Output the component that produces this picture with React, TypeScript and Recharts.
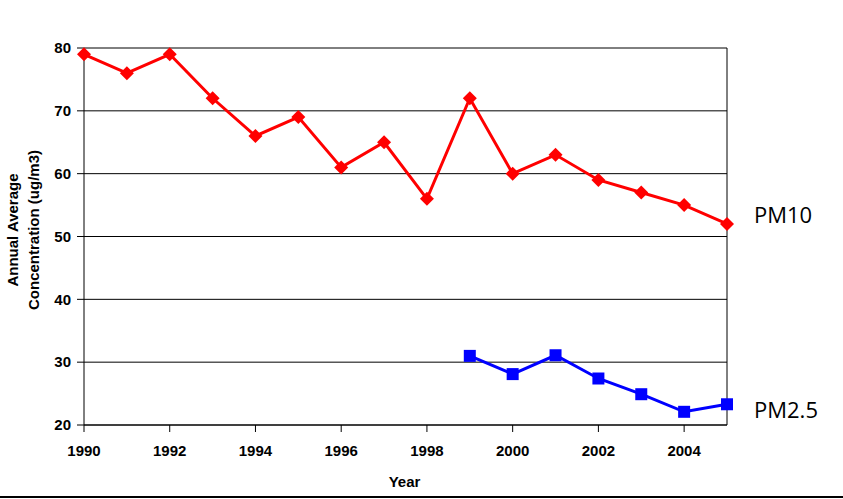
import {
    CartesianGrid,
    Line,
    LineChart,
    ReferenceLine,
    XAxis,
    YAxis,
} from "recharts";

const years = [1990, 1991, 1992, 1993, 1994, 1995, 1996, 1997, 1998, 1999, 2000, 2001, 2002, 2003, 2004, 2005];
const pm10 = [79, 76, 79, 72, 66, 69, 61, 65, 56, 72, 60, 63, 59, 57, 55, 52];
const pm25 = [null, null, null, null, null, null, null, null, null, 31, 28.1, 31.1, 27.4, 24.9, 22.1, 23.3];
const xTicks = [1990, 1992, 1994, 1996, 1998, 2000, 2002, 2004];
const yTicks = [20, 30, 40, 50, 60, 70, 80];

const data = years.map((year, i) => ({
    year,
    pm10: pm10[i],
    pm25: pm25[i],
}));

const tickFont = {
    fontFamily: "'Liberation Sans', Arial, sans-serif",
    fontSize: 15,
    fontWeight: "bold",
    fill: "#000",
};

const Diamond = (props: any) => {
    const { cx, cy, index } = props;
    if (cy == null || cx == null) return <g key={index} />;
    const r = 7;
    return (
        <polygon
            key={index}
            points={`${cx},${cy - r} ${cx + r},${cy} ${cx},${cy + r} ${cx - r},${cy}`}
            fill="#ff0000"
        />
    );
};

const Square = (props: any) => {
    const { cx, cy, index } = props;
    if (cy == null || cx == null) return <g key={index} />;
    const s = 6;
    return <rect key={index} x={cx - s} y={cy - s} width={s * 2} height={s * 2} fill="#0000ff" />;
};

const endLabel = (text: string, dy: number) => (props: any) => {
    const { x, y, index } = props;
    if (index !== years.length - 1 || y == null) return null;
    return (
        <text
            x={x + 27}
            y={y + dy}
            fontFamily="'Open Sans', sans-serif"
            fontSize={22}
            fill="#000"
        >
            {text}
        </text>
    );
};

export default function App() {
    return (
        <div style={{ position: "absolute", left: 0, top: 0, width: 843, height: 499, background: "#fff" }}>
            <LineChart
                width={843}
                height={499}
                data={data}
                margin={{ top: 48, right: 116, bottom: 14, left: 24 }}
            >
                <CartesianGrid vertical={false} stroke="#000" strokeWidth={1} />
                <XAxis
                    dataKey="year"
                    type="number"
                    domain={[1990, 2005]}
                    ticks={xTicks}
                    height={60}
                    tickSize={7}
                    tickMargin={13}
                    tick={tickFont}
                    stroke="#000"
                    label={{
                        content: (p: any) => (
                            <text
                                x={p.viewBox.x + p.viewBox.width / 2 - 1}
                                y={487}
                                textAnchor="middle"
                                {...tickFont}
                            >
                                Year
                            </text>
                        ),
                    }}
                />
                <YAxis
                    type="number"
                    domain={[20, 80]}
                    ticks={yTicks}
                    width={60}
                    tickSize={7}
                    tickMargin={6}
                    tick={tickFont}
                    stroke="#000"
                    interval={0}
                    label={{
                        content: () => (
                            <text
                                transform="rotate(-90)"
                                textAnchor="middle"
                                {...tickFont}
                            >
                                <tspan x={-230} y={18}>Annual Average</tspan>
                                <tspan x={-230} y={39}>Concentration (ug/m3)</tspan>
                            </text>
                        ),
                    }}
                />
                <ReferenceLine x={2005} stroke="#000" strokeWidth={1} />
                <Line
                    dataKey="pm10"
                    stroke="#ff0000"
                    strokeWidth={3}
                    dot={Diamond}
                    activeDot={false}
                    isAnimationActive={false}
                    label={endLabel("PM10", -1)}
                />
                <Line
                    dataKey="pm25"
                    stroke="#0000ff"
                    strokeWidth={3}
                    dot={Square}
                    activeDot={false}
                    isAnimationActive={false}
                    label={endLabel("PM2.5", 14)}
                />
            </LineChart>
            <div style={{ position: "absolute", left: 0, top: 496, width: 843, height: 2, background: "#000" }} />
        </div>
    );
}
